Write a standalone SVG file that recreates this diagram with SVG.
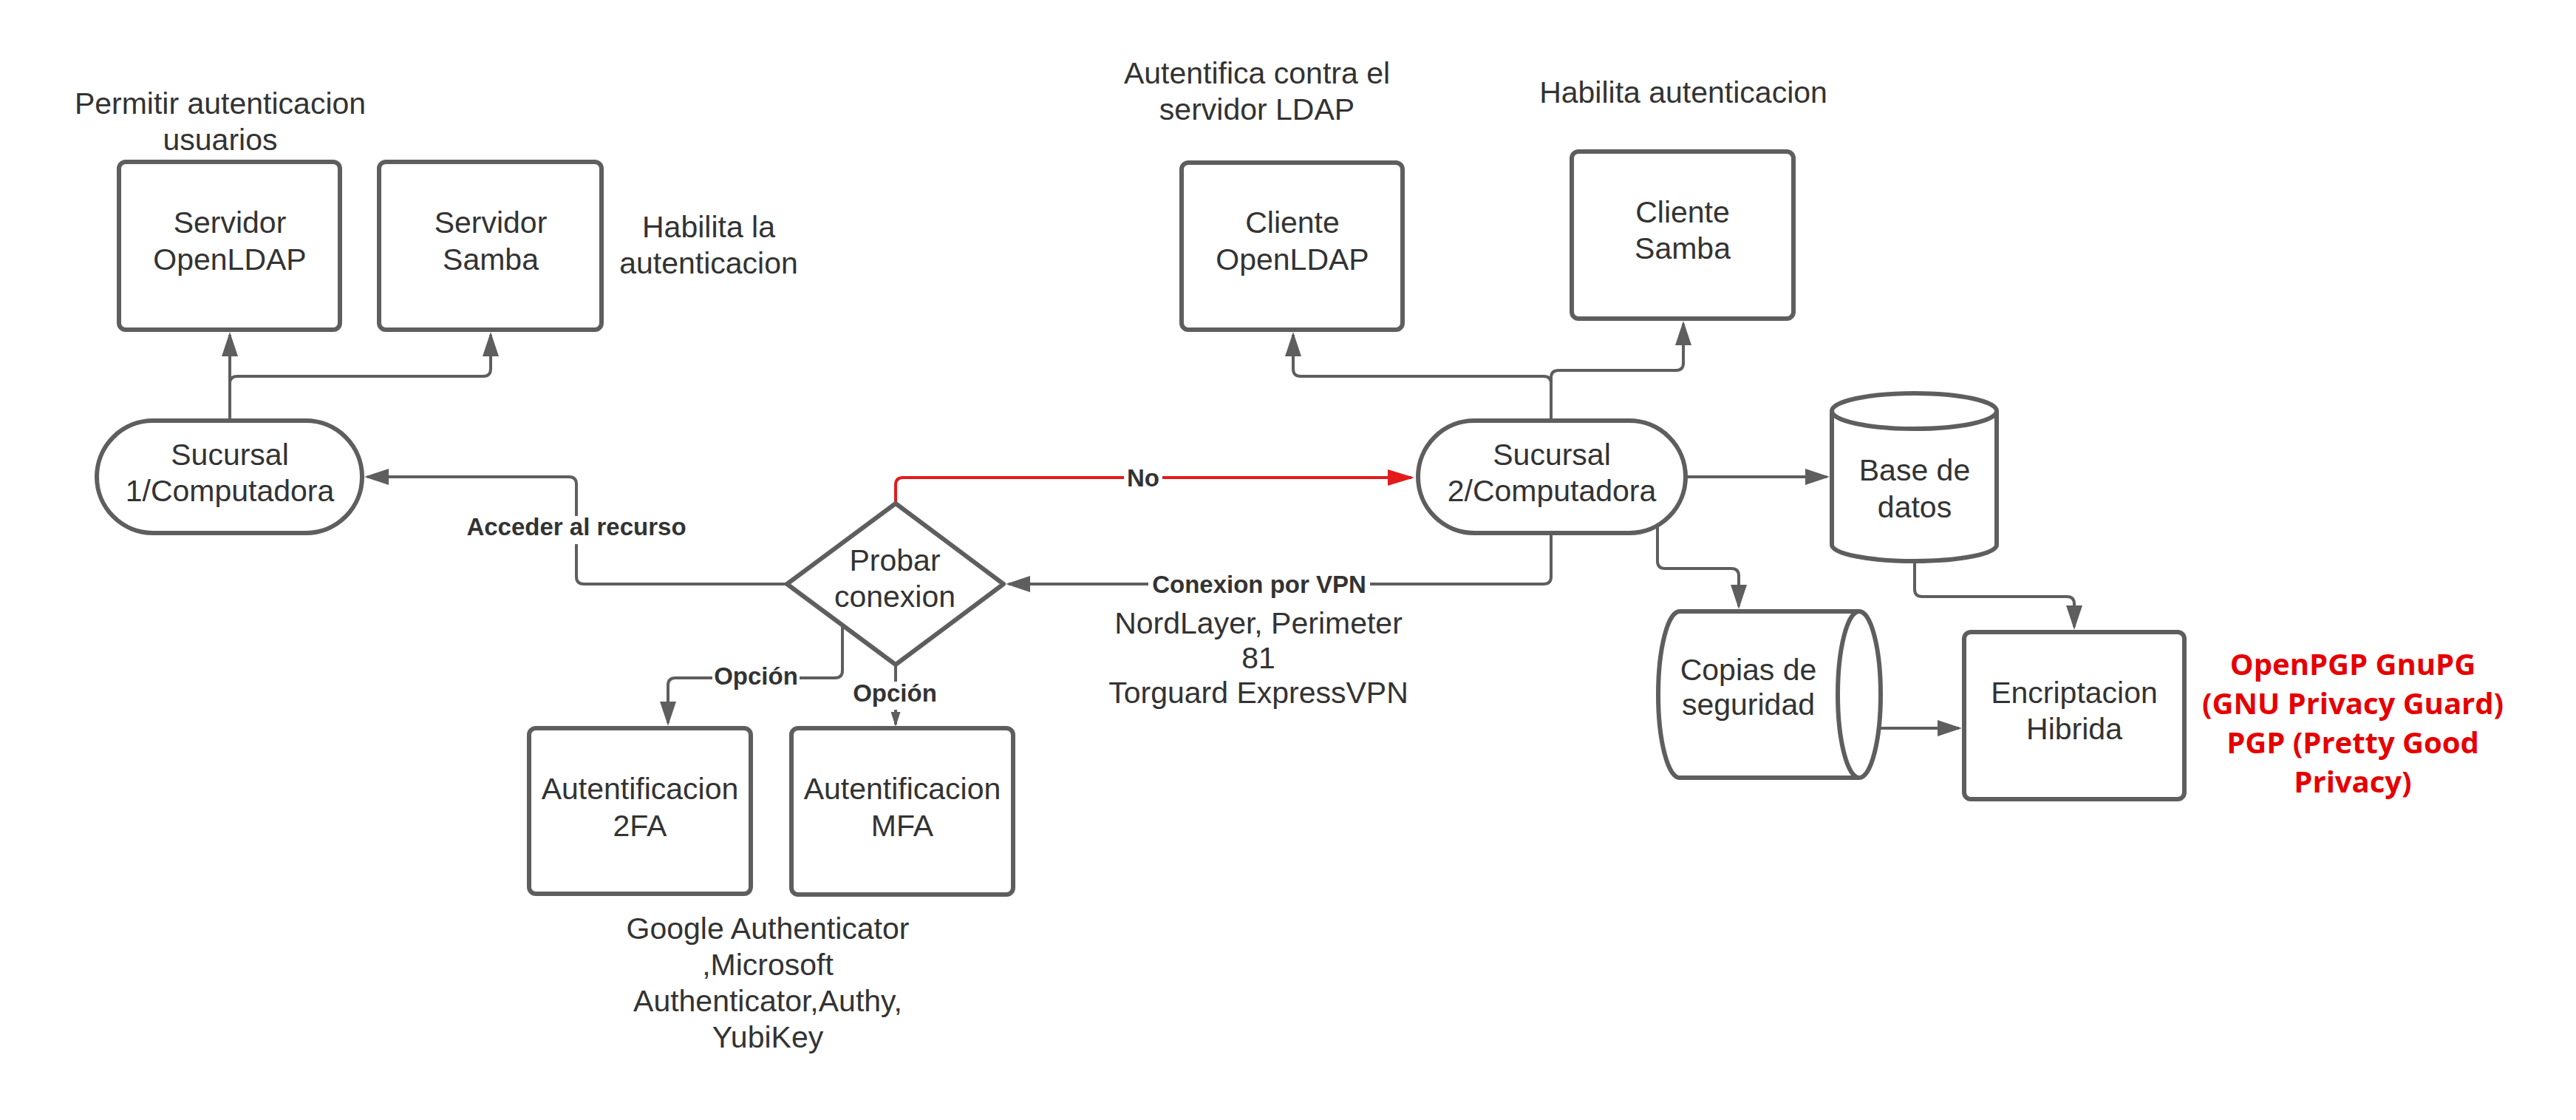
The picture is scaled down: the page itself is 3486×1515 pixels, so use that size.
<svg xmlns="http://www.w3.org/2000/svg" width="3486" height="1515" viewBox="0 0 3486 1515">
<style>
.shape{fill:#ffffff;stroke:#5e5e5e;stroke-width:6;stroke-linejoin:round}
.t{font-family:"Liberation Sans",Arial,sans-serif;font-size:41px;fill:#333333;text-anchor:middle}
.cl{font-family:"Liberation Sans",Arial,sans-serif;font-weight:bold;font-size:33px;fill:#333333;text-anchor:middle}
.rt{font-family:"Open Sans",sans-serif;font-weight:bold;font-size:40px;fill:#e60000;text-anchor:middle}
.conn{fill:none;stroke:#5e5e5e;stroke-width:4}
.connred{fill:none;stroke:#e31b1b;stroke-width:4}
.bg{fill:#ffffff}
</style>
<defs>
<marker id="arr" markerUnits="userSpaceOnUse" markerWidth="33" markerHeight="22" viewBox="0 0 33 22" refX="29" refY="11" orient="auto"><path d="M0,0 L33,11 L0,22 z" fill="#5e5e5e"/></marker>
<marker id="arrs" markerUnits="userSpaceOnUse" markerWidth="20" markerHeight="13" viewBox="0 0 20 13" refX="17" refY="6.5" orient="auto"><path d="M0,0 L20,6.5 L0,13 z" fill="#5e5e5e"/></marker>
<marker id="arrr" markerUnits="userSpaceOnUse" markerWidth="36" markerHeight="22" viewBox="0 0 36 22" refX="32" refY="11" orient="auto"><path d="M0,0 L36,11 L0,22 z" fill="#e31b1b"/></marker>
</defs>
<rect width="3486" height="1515" fill="#ffffff"/>

<g id="connectors">
<path class="conn" d="M311 569 L311 453" marker-end="url(#arr)"/>
<path class="conn" d="M311 519 Q311 509 321 509 L654 509 Q664 509 664 499 L664 453" marker-end="url(#arr)"/>
<path class="conn" d="M1065 790 L790 790 Q780 790 780 780 L780 655 Q780 645 770 645 L497 645" marker-end="url(#arr)"/>
<path class="connred" d="M1212 681 L1212 656 Q1212 646 1222 646 L1910 646" marker-end="url(#arrr)"/>
<path class="conn" d="M2099 722 L2099 780 Q2099 790 2089 790 L1365 790" marker-end="url(#arr)"/>
<path class="conn" d="M1140 846 L1140 907 Q1140 917 1130 917 L914 917 Q904 917 904 927 L904 978" marker-end="url(#arr)"/>
<path class="conn" d="M1212 899 L1212 980" marker-end="url(#arrs)"/>
<path class="conn" d="M2099 569 L2099 519 Q2099 509 2089 509 L1760 509 Q1750 509 1750 499 L1750 453" marker-end="url(#arr)"/>
<path class="conn" d="M2099 569 L2099 511 Q2099 501 2109 501 L2268 501 Q2278 501 2278 491 L2278 438" marker-end="url(#arr)"/>
<path class="conn" d="M2281 645 L2472 645" marker-end="url(#arr)"/>
<path class="conn" d="M2243 711 L2243 759 Q2243 769 2253 769 L2343 769 Q2353 769 2353 779 L2353 820" marker-end="url(#arr)"/>
<path class="conn" d="M2591 759 L2591 797 Q2591 807 2601 807 L2797 807 Q2807 807 2807 817 L2807 848" marker-end="url(#arr)"/>
<path class="conn" d="M2545 985 L2651 985" marker-end="url(#arr)"/>
<rect class="bg" x="1521" y="628" width="52" height="36"/>
<text class="cl" x="1547" y="658">No</text>
<rect class="bg" x="624" y="698" width="312" height="38"/>
<text class="cl" x="780" y="724">Acceder al recurso</text>
<rect class="bg" x="1554" y="772" width="300" height="36"/>
<text class="cl" x="1704" y="802">Conexion por VPN</text>
<rect class="bg" x="964" y="898" width="118" height="38"/>
<text class="cl" x="1023" y="926">Opción</text>
<rect class="bg" x="1152" y="922" width="118" height="38"/>
<text class="cl" x="1211" y="949">Opción</text>
</g>

<g id="servidor-openldap">
<rect class="shape" x="161" y="219" width="299" height="227" rx="9"/>
<text class="t" x="311" y="315">Servidor</text>
<text class="t" x="311" y="365">OpenLDAP</text>
</g>
<g id="servidor-samba">
<rect class="shape" x="513" y="219" width="301" height="227" rx="9"/>
<text class="t" x="664" y="315">Servidor</text>
<text class="t" x="664" y="365">Samba</text>
</g>
<g id="sucursal1">
<rect class="shape" x="131" y="569" width="359" height="152" rx="76"/>
<text class="t" x="311" y="629">Sucursal</text>
<text class="t" x="311" y="678">1/Computadora</text>
</g>
<g id="probar-conexion">
<polygon class="shape" points="1065,790 1212,681 1358,790 1212,899"/>
<text class="t" x="1211" y="772">Probar</text>
<text class="t" x="1211" y="821">conexion</text>
</g>
<g id="auth-2fa">
<rect class="shape" x="716" y="985" width="300" height="224" rx="9"/>
<text class="t" x="866" y="1081">Autentificacion</text>
<text class="t" x="866" y="1131">2FA</text>
</g>
<g id="auth-mfa">
<rect class="shape" x="1071" y="985" width="300" height="225" rx="9"/>
<text class="t" x="1221" y="1081">Autentificacion</text>
<text class="t" x="1221" y="1131">MFA</text>
</g>
<g id="cliente-openldap">
<rect class="shape" x="1599" y="220" width="299" height="226" rx="9"/>
<text class="t" x="1749" y="315">Cliente</text>
<text class="t" x="1749" y="365">OpenLDAP</text>
</g>
<g id="cliente-samba">
<rect class="shape" x="2127" y="205" width="300" height="226" rx="9"/>
<text class="t" x="2277" y="301">Cliente</text>
<text class="t" x="2277" y="350">Samba</text>
</g>
<g id="sucursal2">
<rect class="shape" x="1919" y="569" width="362" height="152" rx="76"/>
<text class="t" x="2100" y="629">Sucursal</text>
<text class="t" x="2100" y="678">2/Computadora</text>
</g>
<g id="base-datos">
<path class="shape" d="M2479 556 A111.5 24 0 0 1 2702 556 L2702 737 A111.5 22 0 0 1 2479 737 Z"/>
<path class="shape" style="fill:none" d="M2479 556 A111.5 24 0 0 0 2702 556"/>
<text class="t" x="2591" y="650">Base de</text>
<text class="t" x="2591" y="700">datos</text>
</g>
<g id="copias-seguridad">
<path class="shape" d="M2273 827 L2516 827 A29 112.5 0 0 1 2516 1052 L2273 1052 A29 112.5 0 0 1 2273 827 Z"/>
<path class="shape" style="fill:none" d="M2516 827 A29 112.5 0 0 0 2516 1052"/>
<text class="t" x="2366" y="920">Copias de</text>
<text class="t" x="2366" y="967">seguridad</text>
</g>
<g id="encriptacion">
<rect class="shape" x="2658" y="855" width="298" height="226" rx="9"/>
<text class="t" x="2807" y="951">Encriptacion</text>
<text class="t" x="2807" y="1000">Hibrida</text>
</g>

<g id="notes">
<text class="t" x="298" y="154">Permitir autenticacion</text>
<text class="t" x="298" y="203">usuarios</text>
<text class="t" x="959" y="321">Habilita la</text>
<text class="t" x="959" y="370">autenticacion</text>
<text class="t" x="1701" y="113">Autentifica contra el</text>
<text class="t" x="1701" y="162">servidor LDAP</text>
<text class="t" x="2278" y="139">Habilita autenticacion</text>
<text class="t" x="1703" y="857">NordLayer, Perimeter</text>
<text class="t" x="1703" y="904">81</text>
<text class="t" x="1703" y="951">Torguard ExpressVPN</text>
<text class="t" x="1039" y="1270">Google Authenticator</text>
<text class="t" x="1039" y="1319">,Microsoft</text>
<text class="t" x="1039" y="1368">Authenticator,Authy,</text>
<text class="t" x="1039" y="1417">YubiKey</text>
<text class="rt" x="3184" y="913">OpenPGP GnuPG</text>
<text class="rt" x="3184" y="966">(GNU Privacy Guard)</text>
<text class="rt" x="3184" y="1019">PGP (Pretty Good</text>
<text class="rt" x="3184" y="1072">Privacy)</text>
</g>
</svg>
